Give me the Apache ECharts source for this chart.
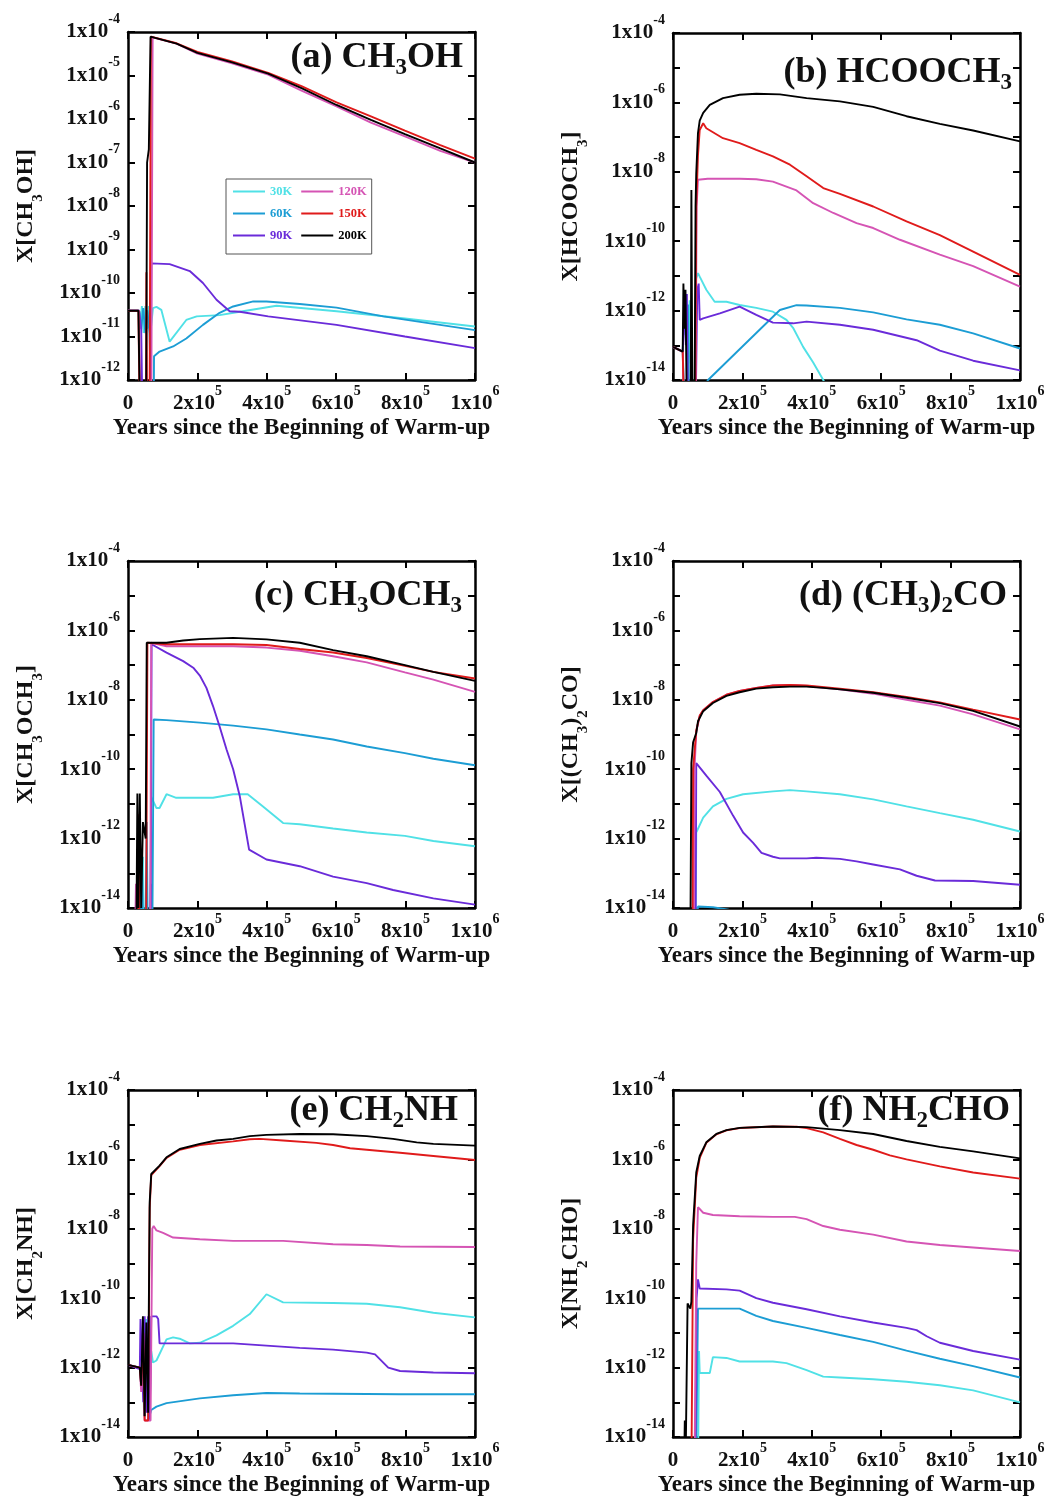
<!DOCTYPE html>
<html><head><meta charset="utf-8">
<script src="https://cdn.jsdelivr.net/npm/echarts@6/dist/echarts.min.js"></script>
<style>html,body{margin:0;padding:0;background:#fff}#c{width:1046px;height:1503px}</style>
</head><body><div id="c"></div>
<script>
// ---------- data ----------
const temps = ['30K', '60K', '90K', '120K', '150K', '200K'];
const xTickValues = [0, 2e5, 4e5, 6e5, 8e5, 1e6];

// (a) CH3OH
const a30 = [[0,3.9e-11],[3.2e4,3.9e-11],[3.6e4,2e-11],[4.0e4,5e-11],[4.5e4,1.2e-11],[5.0e4,5e-11],[5.5e4,1.5e-11],[6.0e4,5e-11],[6.5e4,1.3e-11],[7.2e4,4.5e-11],[8.2e4,4.8e-11],[9.6e4,4.1e-11],[1.2e5,7.6e-12],[1.68e5,2.4e-11],[1.98e5,2.9e-11],[2.64e5,3.1e-11],[3.22e5,3.7e-11],[4.28e5,5.1e-11],[6.01e5,3.8e-11],[7.98e5,2.6e-11],[1e6,1.7e-11]];
const a60 = [[0,3.9e-11],[3.2e4,3.9e-11],[3.8e4,1.5e-11],[4.4e4,4.5e-11],[5.0e4,1.2e-11],[5.6e4,4e-11],[6.2e4,1.2e-11],[6.8e4,1e-13],[7.4e4,1e-13],[7.5e4,3.5e-12],[9.1e4,4.5e-12],[1.3e5,5.9e-12],[1.68e5,9e-12],[2.16e5,1.85e-11],[2.64e5,3.5e-11],[3.03e5,4.9e-11],[3.61e5,6.4e-11],[3.99e5,6.4e-11],[4.95e5,5.6e-11],[6.01e5,4.6e-11],[7.36e5,2.9e-11],[1e6,1.4e-11]];
const a90 = [[0,3.9e-11],[3.2e4,3.9e-11],[3.8e4,1.5e-11],[4.2e4,1e-13],[6.5e4,1e-13],[6.7e4,4.8e-10],[1.2e5,4.6e-10],[1.78e5,3.2e-10],[2.16e5,1.7e-10],[2.55e5,7e-11],[2.93e5,3.8e-11],[3.22e5,3.7e-11],[4.04e5,2.9e-11],[6.01e5,1.85e-11],[7.98e5,1e-11],[1e6,5.4e-12]];
const a120 = [[0,3.9e-11],[3.2e4,3.9e-11],[3.6e4,1e-13],[6.7e4,1e-13],[7.1e4,7.5e-5],[1.4e5,5.4e-5],[2.0e5,3.2e-5],[3.0e5,1.9e-5],[4.04e5,1.05e-5],[5.0e5,4.5e-6],[6.01e5,1.95e-6],[7.0e5,8.3e-7],[7.98e5,4e-7],[9.0e5,1.85e-7],[1e6,1e-7]];
const a150 = [[0,3.9e-11],[3.0e4,3.9e-11],[3.4e4,1e-13],[5.2e4,1e-13],[5.3e4,3e-10],[5.5e4,1e-13],[6.2e4,1e-13],[6.6e4,7.8e-5],[1.4e5,5.5e-5],[2.0e5,3.5e-5],[3.0e5,2.1e-5],[4.04e5,1.15e-5],[5.0e5,5.7e-6],[6.01e5,2.4e-6],[7.0e5,1.15e-6],[7.98e5,5.4e-7],[9.0e5,2.5e-7],[1e6,1.23e-7]];
const a200 = [[0,3.9e-11],[3.0e4,3.9e-11],[3.5e4,1e-13],[5.2e4,1e-13],[5.5e4,1e-7],[6.0e4,2e-7],[6.5e4,7.8e-5],[1.4e5,5.4e-5],[2.0e5,3.3e-5],[3.0e5,2e-5],[4.04e5,1.1e-5],[5.0e5,5.1e-6],[6.01e5,2.1e-6],[7.0e5,9.6e-7],[7.98e5,4.5e-7],[9.0e5,2.1e-7],[1e6,1e-7]];

// (b) HCOOCH3
const b30 = [[0,9e-14],[2.8e4,6.6e-14],[3.3e4,3e-12],[3.6e4,2e-13],[4.0e4,1.5e-12],[4.4e4,3e-14],[4.8e4,2e-12],[5.2e4,1e-15],[6.2e4,1e-15],[6.6e4,8e-12],[7.2e4,1.2e-11],[7.7e4,9.5e-12],[9.6e4,4e-12],[1.2e5,1.8e-12],[1.54e5,1.8e-12],[1.92e5,1.45e-12],[2.4e5,1.2e-12],[2.88e5,9.3e-13],[3.27e5,5.4e-13],[3.46e5,3.2e-13],[3.75e5,9e-14],[4.04e5,3.2e-14],[4.33e5,1e-14],[4.6e5,3e-15],[1e6,1e-16]];
const b60 = [[0,9e-14],[2.8e4,6.6e-14],[3.4e4,1e-15],[4.0e4,1e-15],[4.3e4,1.5e-12],[4.6e4,1e-15],[1.01e5,1e-14],[3.08e5,1.04e-12],[3.56e5,1.43e-12],[3.85e5,1.4e-12],[4.81e5,1.2e-12],[5.77e5,8.9e-13],[6.73e5,5.6e-13],[7.69e5,3.9e-13],[8.65e5,2.2e-13],[1e6,8.1e-14]];
const b90 = [[0,9e-14],[2.8e4,6.6e-14],[3.4e4,2e-12],[3.7e4,1e-13],[4.0e4,3e-12],[4.3e4,1e-15],[6.5e4,1e-15],[7.0e4,4e-12],[7.4e4,6e-12],[7.7e4,5.4e-13],[8.7e4,6e-13],[1.35e5,8.3e-13],[1.92e5,1.3e-12],[2.4e5,7.5e-13],[2.88e5,4.5e-13],[3.46e5,4.3e-13],[3.85e5,4.8e-13],[4.81e5,3.9e-13],[5.77e5,2.8e-13],[7.02e5,1.4e-13],[7.69e5,7e-14],[8.65e5,3.6e-14],[1e6,1.9e-14]];
const b120 = [[0,9e-14],[2.8e4,6.6e-14],[3.2e4,1e-15],[6.5e4,1e-15],[6.8e4,1e-9],[7.2e4,5.9e-9],[1.0e5,6.3e-9],[1.92e5,6.3e-9],[2.4e5,6.1e-9],[2.88e5,5.2e-9],[3.56e5,2.9e-9],[4.04e5,1.25e-9],[4.62e5,6.5e-10],[5.29e5,3.3e-10],[5.77e5,2.4e-10],[6.54e5,1.1e-10],[7.69e5,4.1e-11],[8.65e5,1.9e-11],[1e6,4.9e-12]];
const b150 = [[0,9e-14],[2.8e4,6.6e-14],[3.2e4,1e-15],[6.4e4,1e-15],[6.7e4,1e-9],[7.2e4,3e-8],[7.7e4,1.6e-7],[8.7e4,2.5e-7],[9.6e4,1.8e-7],[1.44e5,9.3e-8],[1.92e5,6.7e-8],[2.4e5,4.3e-8],[2.88e5,2.8e-8],[3.37e5,1.6e-8],[3.85e5,7.4e-9],[4.33e5,3.4e-9],[4.81e5,2.3e-9],[5.77e5,1e-9],[6.73e5,3.7e-10],[7.69e5,1.5e-10],[8.65e5,5e-11],[1e6,1.07e-11]];
const b200 = [[0,9e-14],[2.8e4,6.6e-14],[3.0e4,6e-12],[3.3e4,3e-13],[3.6e4,4e-12],[4.0e4,1e-15],[5.1e4,1e-15],[5.3e4,3e-9],[5.6e4,1e-15],[6.2e4,1e-15],[6.5e4,1e-9],[6.7e4,9e-9],[7.2e4,1.3e-7],[7.7e4,3e-7],[8.7e4,5e-7],[1.06e5,8.5e-7],[1.44e5,1.33e-6],[1.92e5,1.66e-6],[2.4e5,1.77e-6],[3.08e5,1.7e-6],[3.85e5,1.33e-6],[4.81e5,1.07e-6],[5.77e5,7.4e-7],[6.73e5,4e-7],[7.69e5,2.4e-7],[8.65e5,1.55e-7],[1e6,7.5e-8]];

// (c) CH3OCH3
const c30 = [[0,1e-15],[4.0e4,1e-15],[4.3e4,3e-13],[4.6e4,1e-15],[6.3e4,1e-15],[6.7e4,1.6e-11],[8.2e4,7.6e-12],[9.1e4,7.6e-12],[1.11e5,1.9e-11],[1.39e5,1.5e-11],[2.45e5,1.5e-11],[3.03e5,1.9e-11],[3.45e5,1.9e-11],[3.89e5,8.4e-12],[4.47e5,2.8e-12],[4.95e5,2.6e-12],[5.91e5,1.95e-12],[6.88e5,1.5e-12],[7.98e5,1.2e-12],[8.8e5,8.5e-13],[1e6,6e-13]];
const c60 = [[0,1e-15],[3.6e4,1e-15],[4.0e4,2e-13],[4.4e4,1e-15],[5.0e4,1e-15],[5.4e4,3e-12],[5.7e4,1e-15],[6.3e4,1e-15],[6.6e4,5e-14],[7.0e4,1e-15],[7.3e4,1e-15],[7.4e4,2.7e-9],[1.11e5,2.6e-9],[2.07e5,2.2e-9],[3.03e5,1.8e-9],[3.99e5,1.4e-9],[4.95e5,1e-9],[5.91e5,7.2e-10],[6.88e5,4.5e-10],[7.98e5,2.9e-10],[8.8e5,2e-10],[1e6,1.3e-10]];
const c90 = [[0,1e-15],[6.5e4,1e-15],[6.8e4,4e-7],[1.11e5,2.3e-7],[1.59e5,1.3e-7],[1.88e5,8.4e-8],[2.07e5,5e-8],[2.26e5,2.2e-8],[2.45e5,6.6e-9],[2.64e5,1.7e-9],[2.84e5,3.7e-10],[3.03e5,1e-10],[3.22e5,1.7e-11],[3.49e5,4.8e-13],[3.99e5,2.5e-13],[4.95e5,1.6e-13],[5.91e5,8e-14],[6.88e5,5.2e-14],[7.64e5,3.3e-14],[8.8e5,1.9e-14],[1e6,1.25e-14]];
const c120 = [[0,1e-15],[2.0e4,1e-15],[2.3e4,5e-14],[2.6e4,1e-15],[6.4e4,1e-15],[6.7e4,4.4e-7],[1.11e5,3.5e-7],[3.03e5,3.5e-7],[3.99e5,3.2e-7],[4.95e5,2.6e-7],[5.91e5,1.8e-7],[6.88e5,1.2e-7],[7.98e5,6.2e-8],[8.8e5,3.8e-8],[1e6,1.7e-8]];
const c150 = [[0,1e-15],[2.7e4,1e-15],[3.0e4,5e-12],[3.3e4,1e-15],[5.2e4,1e-15],[5.6e4,4.4e-7],[1.11e5,4e-7],[3.03e5,4e-7],[3.99e5,3.8e-7],[4.95e5,2.9e-7],[5.91e5,2.3e-7],[6.88e5,1.6e-7],[7.98e5,9.5e-8],[8.8e5,6.4e-8],[1e6,4.1e-8]];
const c200 = [[0,1e-15],[2.4e4,1e-15],[2.7e4,2e-11],[3.0e4,1e-14],[3.4e4,2e-11],[3.8e4,1e-14],[4.3e4,3e-12],[5.1e4,1e-12],[5.4e4,4.4e-7],[1.11e5,4.4e-7],[1.59e5,5.1e-7],[2.07e5,5.6e-7],[3.03e5,6.1e-7],[3.99e5,5.5e-7],[4.95e5,4.4e-7],[5.91e5,2.7e-7],[6.88e5,1.8e-7],[7.98e5,1.0e-7],[8.8e5,6.4e-8],[1e6,3.5e-8]];

// (d) (CH3)2CO
const d30 = [[0,1e-15],[6.5e4,1e-15],[6.7e4,1.5e-12],[8.7e4,4e-12],[1.15e5,8.5e-12],[1.54e5,1.4e-11],[2.02e5,1.9e-11],[2.88e5,2.3e-11],[3.37e5,2.5e-11],[3.85e5,2.3e-11],[4.81e5,1.9e-11],[5.77e5,1.35e-11],[6.73e5,8.5e-12],[7.69e5,5.4e-12],[8.65e5,3.5e-12],[1e6,1.6e-12]];
const d60 = [[0,1e-15],[6.5e4,1e-15],[7.2e4,1.1e-14],[1.15e5,1.05e-14],[1.6e5,9e-15],[2.0e5,3e-15],[1e6,1e-15]];
const d90 = [[0,1e-15],[6.5e4,1e-15],[6.7e4,1.5e-10],[9.6e4,6.5e-11],[1.35e5,2.2e-11],[1.73e5,4.6e-12],[2.02e5,1.5e-12],[2.31e5,7.5e-13],[2.55e5,3.9e-13],[2.88e5,3e-13],[3.08e5,2.7e-13],[3.85e5,2.7e-13],[4.13e5,2.8e-13],[4.81e5,2.6e-13],[5.29e5,2.2e-13],[5.77e5,1.8e-13],[6.54e5,1.3e-13],[7.02e5,8.5e-14],[7.55e5,6.2e-14],[8.65e5,6e-14],[1e6,4.7e-14]];
const d120 = [[0,1e-15],[6.0e4,1e-15],[6.2e4,1e-10],[6.7e4,1.2e-9],[7.7e4,3.4e-9],[8.7e4,5e-9],[1.15e5,8.6e-9],[1.54e5,1.4e-8],[1.92e5,1.8e-8],[2.4e5,2.2e-8],[2.88e5,2.6e-8],[3.37e5,2.7e-8],[3.85e5,2.5e-8],[4.81e5,2.0e-8],[5.77e5,1.5e-8],[6.73e5,1.0e-8],[7.69e5,6.8e-9],[8.65e5,3.8e-9],[1e6,1.4e-9]];
const d150 = [[0,1e-15],[5.6e4,1e-15],[5.8e4,1e-10],[6.7e4,1.3e-9],[7.7e4,3.5e-9],[8.7e4,5e-9],[1.15e5,8.6e-9],[1.54e5,1.4e-8],[1.92e5,1.8e-8],[2.4e5,2.2e-8],[2.88e5,2.6e-8],[3.37e5,2.7e-8],[3.85e5,2.6e-8],[4.81e5,2.1e-8],[5.77e5,1.65e-8],[6.73e5,1.2e-8],[7.69e5,8.4e-9],[8.65e5,5.2e-9],[1e6,2.7e-9]];
const d200 = [[0,1e-15],[5.0e4,1e-15],[5.3e4,1.5e-10],[5.8e4,6e-10],[6.7e4,1.1e-9],[7.2e4,2.4e-9],[8.7e4,4.7e-9],[1.15e5,8.1e-9],[1.54e5,1.3e-8],[1.92e5,1.65e-8],[2.4e5,2.1e-8],[2.88e5,2.3e-8],[3.37e5,2.4e-8],[3.85e5,2.4e-8],[4.33e5,2.2e-8],[4.81e5,2e-8],[5.77e5,1.6e-8],[6.73e5,1.15e-8],[7.69e5,8e-9],[8.65e5,4.8e-9],[1e6,1.7e-9]];

// (e) CH2NH
const e30 = [[0,1.2e-12],[3.4e4,1e-12],[3.8e4,3e-13],[4.2e4,2e-12],[4.6e4,6e-14],[5.2e4,2.5e-11],[5.6e4,1e-13],[6.2e4,5e-14],[6.7e4,3e-12],[7.2e4,1.4e-12],[8.2e4,1.6e-12],[1.11e5,6.5e-12],[1.3e5,7.4e-12],[1.49e5,6.8e-12],[1.78e5,5e-12],[2.07e5,5.2e-12],[2.55e5,8.5e-12],[3.03e5,1.6e-11],[3.51e5,3.5e-11],[3.99e5,1.3e-10],[4.47e5,7.6e-11],[5.91e5,7.3e-11],[6.88e5,6.9e-11],[7.84e5,5.5e-11],[8.8e5,3.8e-11],[1e6,2.8e-11]];
const e60 = [[0,1.2e-12],[3.4e4,1e-12],[3.8e4,4e-13],[4.3e4,1e-11],[4.7e4,4e-14],[5.4e4,2e-11],[5.8e4,3e-14],[6.25e4,3e-14],[6.7e4,6e-14],[8.2e4,7.5e-14],[1.11e5,9.5e-14],[2.07e5,1.3e-13],[3.03e5,1.6e-13],[3.99e5,1.85e-13],[4.95e5,1.8e-13],[7.84e5,1.7e-13],[1e6,1.7e-13]];
const e90 = [[0,1.2e-12],[3.4e4,9e-13],[3.6e4,2.5e-11],[4.0e4,2.5e-11],[4.4e4,1e-13],[4.8e4,3e-11],[5.3e4,5e-14],[5.8e4,3e-11],[6.25e4,3e-14],[6.7e4,3e-11],[8.2e4,3e-11],[8.7e4,2.5e-11],[9.1e4,5e-12],[2.07e5,5e-12],[3.03e5,5e-12],[3.99e5,4.3e-12],[4.95e5,3.7e-12],[5.91e5,3.3e-12],[6.88e5,2.7e-12],[7.12e5,2.4e-12],[7.5e5,1e-12],[7.84e5,8e-13],[8.8e5,7.2e-13],[1e6,6.9e-13]];
const e120 = [[0,1.2e-12],[3.4e4,1e-12],[3.8e4,2e-13],[4.4e4,1e-12],[4.8e4,3e-14],[6.5e4,3e-14],[7.0e4,1e-8],[7.4e4,1.2e-8],[8.2e4,9e-9],[1.01e5,7.6e-9],[1.3e5,5.6e-9],[2.07e5,5e-9],[3.03e5,4.5e-9],[4.47e5,4.5e-9],[5.91e5,3.6e-9],[6.88e5,3.4e-9],[7.84e5,3.1e-9],[1e6,3e-9]];
const e150 = [[0,1.2e-12],[3.4e4,1e-12],[3.8e4,3e-13],[4.4e4,1e-11],[4.8e4,3e-14],[5.8e4,3e-14],[6.25e4,4e-8],[6.7e4,3.5e-7],[7.2e4,3.6e-7],[9.1e4,6.4e-7],[1.11e5,1.1e-6],[1.49e5,1.9e-6],[2.07e5,2.6e-6],[3.03e5,3.3e-6],[3.51e5,3.8e-6],[3.8e5,3.9e-6],[4.47e5,3.5e-6],[5.43e5,3e-6],[5.91e5,2.6e-6],[6.4e5,2.1e-6],[6.88e5,1.9e-6],[7.84e5,1.55e-6],[8.8e5,1.25e-6],[1e6,9.6e-7]];
const e200 = [[0,1.2e-12],[3.4e4,1e-12],[3.8e4,3e-13],[4.3e4,3e-11],[4.8e4,4e-14],[5.3e4,2e-11],[5.8e4,5e-14],[6.0e4,5e-11],[6.25e4,5.8e-8],[6.7e4,3.8e-7],[7.2e4,3.8e-7],[9.1e4,6.6e-7],[1.11e5,1.15e-6],[1.49e5,2e-6],[2.07e5,2.8e-6],[2.55e5,3.5e-6],[3.03e5,3.9e-6],[3.51e5,4.7e-6],[3.99e5,5.1e-6],[4.95e5,5.4e-6],[5.91e5,5.3e-6],[6.88e5,4.7e-6],[7.64e5,3.9e-6],[8.32e5,3.1e-6],[8.8e5,2.8e-6],[1e6,2.5e-6]];

// (f) NH2CHO
const f30 = [[0,1e-15],[7.2e4,1e-15],[7.5e4,3e-12],[7.7e4,7e-13],[1.06e5,7e-13],[1.15e5,2e-12],[1.54e5,1.9e-12],[1.92e5,1.5e-12],[2.88e5,1.5e-12],[3.27e5,1.35e-12],[3.85e5,8.5e-13],[4.33e5,5.5e-13],[4.81e5,5.2e-13],[5.77e5,4.6e-13],[6.73e5,3.9e-13],[7.69e5,3.1e-13],[8.65e5,2.2e-13],[1e6,1e-13]];
const f60 = [[0,1e-15],[6.6e4,1e-15],[7.0e4,1e-12],[7.2e4,5e-11],[1.92e5,5e-11],[2.4e5,3.1e-11],[2.88e5,2.2e-11],[3.85e5,1.4e-11],[4.81e5,8.7e-12],[5.77e5,5.5e-12],[6.73e5,3.1e-12],[7.69e5,1.8e-12],[8.65e5,1.1e-12],[1e6,5.2e-13]];
const f90 = [[0,1e-15],[6.4e4,1e-15],[6.8e4,1e-10],[7.2e4,3.5e-10],[7.7e4,1.9e-10],[1.54e5,1.8e-10],[1.92e5,1.65e-10],[2.4e5,1e-10],[2.88e5,7.4e-11],[3.85e5,4.8e-11],[4.81e5,3e-11],[5.77e5,2e-11],[6.73e5,1.4e-11],[7.02e5,1.2e-11],[7.31e5,8e-12],[7.69e5,5.2e-12],[8.65e5,3e-12],[1e6,1.7e-12]];
const f120 = [[0,1e-15],[6.2e4,1e-15],[6.7e4,1e-9],[7.2e4,4.2e-8],[8.7e4,2.9e-8],[1.15e5,2.5e-8],[1.92e5,2.3e-8],[2.88e5,2.2e-8],[3.51e5,2.2e-8],[3.85e5,1.9e-8],[4.33e5,1.2e-8],[4.81e5,9.4e-9],[5.77e5,6.8e-9],[6.73e5,4.3e-9],[7.69e5,3.4e-9],[8.65e5,2.9e-9],[1e6,2.3e-9]];
const f150 = [[0,1e-15],[5.3e4,1e-15],[5.8e4,5e-9],[6.7e4,3e-7],[7.7e4,1.1e-6],[9.6e4,3e-6],[1.25e5,5.3e-6],[1.54e5,6.9e-6],[1.92e5,8e-6],[2.88e5,8.9e-6],[3.56e5,8.7e-6],[3.85e5,8e-6],[4.33e5,6e-6],[4.81e5,3.9e-6],[5.29e5,2.6e-6],[5.77e5,1.9e-6],[6.25e5,1.3e-6],[6.73e5,1.0e-6],[7.69e5,6.3e-7],[8.65e5,4.2e-7],[1e6,2.8e-7]];
const f200 = [[0,1e-15],[3.2e4,1e-15],[3.4e4,3e-14],[3.6e4,1e-15],[4.0e4,1e-15],[4.2e4,7e-11],[5.0e4,5e-11],[5.3e4,8e-11],[5.8e4,1.3e-8],[6.7e4,4.2e-7],[7.7e4,1.25e-6],[9.6e4,3.1e-6],[1.25e5,5.4e-6],[1.54e5,7e-6],[1.92e5,8.1e-6],[2.88e5,8.9e-6],[3.85e5,8.5e-6],[4.81e5,7e-6],[5.77e5,5.4e-6],[6.73e5,3.4e-6],[7.69e5,2.3e-6],[8.65e5,1.7e-6],[1e6,1.07e-6]];

const panelSeries = [
  [a30, a60, a90, a120, a150, a200],
  [b30, b60, b90, b120, b150, b200],
  [c30, c60, c90, c120, c150, c200],
  [d30, d60, d90, d120, d150, d200],
  [e30, e60, e90, e120, e150, e200],
  [f30, f60, f90, f120, f150, f200]
];
const panelYMin = [1e-12, 1e-14, 1e-14, 1e-14, 1e-14, 1e-14];
const panelTitles = [
  '{t|(a) CH}{s|3}{t|OH}',
  '{t|(b) HCOOCH}{s|3}',
  '{t|(c) CH}{s|3}{t|OCH}{s|3}',
  '{t|(d) (CH}{s|3}{t|)}{s|2}{t|CO}',
  '{t|(e) CH}{s|2}{t|NH}',
  '{t|(f) NH}{s|2}{t|CHO}'
];
const panelYNames = [
  '{n|X[CH}{s|3}{n|OH]}',
  '{n|X[HCOOCH}{s|3}{n|]}',
  '{n|X[CH}{s|3}{n|OCH}{s|3}{n|]}',
  '{n|X[(CH}{s|3}{n|)}{s|2}{n|CO]}',
  '{n|X[CH}{s|2}{n|NH]}',
  '{n|X[NH}{s|2}{n|CHO]}'
];
const xAxisName = 'Years since the Beginning of Warm-up';

// ---------- style / layout ----------
const colors = ['#50E1E6', '#1C9DD4', '#6A2BD9', '#D554B4', '#E01B1B', '#000000'];
const FONT = 'Liberation Serif';
const layout = [
  {left: 128, top: 32, h: 348, tr: 583, tt: 36},
  {left: 673, top: 33, h: 347, tr: 34, tt: 51},
  {left: 128, top: 561, h: 347, tr: 584, tt: 574},
  {left: 673, top: 561, h: 347, tr: 39, tt: 574},
  {left: 128, top: 1090, h: 347, tr: 588, tt: 1089},
  {left: 673, top: 1090, h: 347, tr: 36, tt: 1089}
];
const labelRich = {
  b: {fontFamily: FONT, fontWeight: 'bold', fontSize: 21, color: '#111', lineHeight: 40},
  e: {fontFamily: FONT, fontWeight: 'bold', fontSize: 14, color: '#111', lineHeight: 14, verticalAlign: 'top'}
};
const titleRich = {
  t: {fontFamily: FONT, fontWeight: 'bold', fontSize: 36, color: '#111', lineHeight: 44},
  s: {fontFamily: FONT, fontWeight: 'bold', fontSize: 23, color: '#111', lineHeight: 22, verticalAlign: 'bottom'}
};
const nameRich = {
  n: {fontFamily: FONT, fontWeight: 'bold', fontSize: 24, color: '#111', lineHeight: 40},
  s: {fontFamily: FONT, fontWeight: 'bold', fontSize: 15, color: '#111', lineHeight: 12, verticalAlign: 'bottom'}
};

function xFmt(v) {
  if (v === 0) return '{b|0}';
  const e = Math.floor(Math.log10(v) + 1e-9);
  const m = Math.round(v / Math.pow(10, e));
  return '{b|' + m + 'x10}{e|' + e + '}';
}
function yFmtFactory(every) {
  return function (v) {
    const e = Math.round(Math.log10(v));
    if (every === 2 && e % 2 !== 0) return '';
    return '{b|1x10}{e|' + e + '}';
  };
}

const tickStyle = {show: true, inside: true, length: 7, lineStyle: {color: '#000', width: 2}};
const frameLine = {show: true, onZero: false, lineStyle: {color: '#000', width: 2.5}};

const grids = [], xAxes = [], yAxes = [], series = [], titles = [];
panelSeries.forEach((list, i) => {
  const L = layout[i];
  const ymin = panelYMin[i];
  const ymax = 0.99999e-4;
  const decades = Math.round(Math.log10(1e-4 / ymin));
  grids.push({left: L.left, top: L.top, width: 347, height: L.h, show: false, outerBoundsMode: 'none', containLabel: false});
  xAxes.push({
    gridIndex: i, type: 'value', min: xTickValues[0], max: xTickValues[xTickValues.length - 1], interval: 2e5,
    position: 'bottom', axisLine: frameLine, axisTick: tickStyle, splitLine: {show: false},
    axisLabel: {margin: 4, formatter: xFmt, rich: labelRich, showMinLabel: true, showMaxLabel: true},
    name: xAxisName, nameLocation: 'middle', nameGap: 37,
    nameTextStyle: {fontFamily: FONT, fontWeight: 'bold', fontSize: 23, color: '#111'}
  });
  xAxes.push({
    gridIndex: i, type: 'value', min: 0, max: 1e6, interval: 2e5, position: 'top',
    axisLine: frameLine, axisTick: tickStyle, axisLabel: {show: false}, splitLine: {show: false}
  });
  yAxes.push({
    gridIndex: i, type: 'log', logBase: 10, min: ymin, max: ymax, splitNumber: decades, position: 'left',
    axisLine: frameLine, axisTick: tickStyle, splitLine: {show: false}, minorTick: {show: false},
    axisLabel: {margin: 8, formatter: yFmtFactory(i === 0 ? 1 : 2), rich: labelRich, showMinLabel: true, showMaxLabel: true},
    name: panelYNames[i], nameLocation: 'middle', nameGap: 82,
    nameTextStyle: {rich: nameRich}
  });
  yAxes.push({
    gridIndex: i, type: 'log', logBase: 10, min: ymin, max: ymax, splitNumber: decades, position: 'right',
    axisLine: frameLine, axisTick: tickStyle, axisLabel: {show: false}, splitLine: {show: false}
  });
  list.forEach((d, k) => {
    series.push({
      type: 'line', name: temps[k], xAxisIndex: 2 * i, yAxisIndex: 2 * i, data: d,
      showSymbol: false, symbol: 'none', clip: true, silent: true, animation: false,
      lineStyle: {color: colors[k], width: 1.9}, itemStyle: {color: colors[k]},
      emphasis: {disabled: true}, z: 2 + k
    });
  });
  titles.push({
    text: panelTitles[i], right: L.tr, top: L.tt, padding: 0,
    textStyle: {rich: titleRich}
  });
});

const chart = echarts.init(document.getElementById('c'), null, {renderer: 'canvas'});
chart.setOption({
  backgroundColor: '#fff',
  animation: false,
  title: titles,
  legend: {
    left: 226, top: 179, height: 62, orient: 'vertical',
    itemWidth: 32, itemHeight: 2, itemGap: 9, icon: 'rect',
    borderColor: '#555', borderWidth: 1, padding: [6, 5, 12, 7], backgroundColor: '#fff',
    selectedMode: false,
    textStyle: {fontFamily: FONT, fontWeight: 'bold', fontSize: 12.5},
    data: temps.map((t, k) => ({name: t, textStyle: {color: colors[k]}}))
  },
  grid: grids,
  xAxis: xAxes,
  yAxis: yAxes,
  series: series
});
</script></body></html>
